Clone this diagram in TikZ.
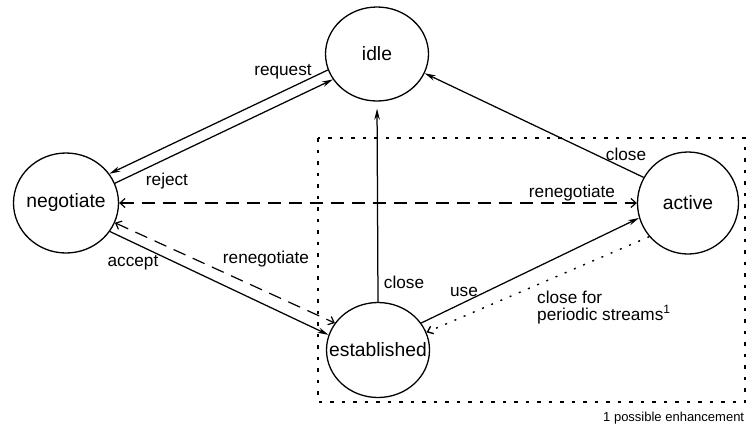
\documentclass[tikz,border=0pt]{standalone}
\usepackage{fontspec}
\setmainfont{Liberation Sans}
\usetikzlibrary{shapes.geometric,arrows.meta}
\begin{document}
\begin{tikzpicture}[x=1pt,y=-1pt,
  state/.style={draw, ellipse, line width=1.3pt, inner xsep=-20pt, inner ysep=0pt,
    font=\fontsize{19.3}{22}\selectfont},
  lbl/.style={inner sep=0pt, font=\fontsize{17.2}{17}\selectfont},
  solidarrow/.style={line width=1.25pt, -{Stealth[length=11pt,width=5.5pt]}},
  dasharrow/.style={line width=1.2pt, dash pattern=on 13pt off 8pt,
    {Straight Barb[length=5pt,width=9pt]}-{Straight Barb[length=5pt,width=9pt]}},
  dotarrow/.style={line width=1.4pt, dash pattern=on 2pt off 8pt,
    -{Straight Barb[length=5pt,width=8pt]}},
  boxline/.style={line width=2pt, dash pattern=on 3.5pt off 8pt}
]
\useasboundingbox (0,0) rectangle (749,432);

% dotted boundary
\draw[boxline] (318,138) rectangle (745,402);

% states
\node[state, minimum width=103pt, minimum height=94pt] (idle) at (377,54) {idle};
\node[state, minimum width=105pt, minimum height=100pt] (negotiate) at (66,203) {negotiate};
\node[state, minimum width=101pt, minimum height=102pt] (active) at (688,203) {active};
\node[state, minimum width=103pt, minimum height=95pt] (established) at (378,350) {established};

% transitions
\draw[solidarrow] (idle.198) -- (negotiate.34);
\draw[solidarrow] (negotiate.22) -- (idle.210);
\draw[solidarrow] (active.150) -- (idle.-22);
\draw[dasharrow] (negotiate.east) -- (active.west);
\draw[dasharrow] (negotiate.-22) -- (established.148);
\draw[solidarrow] (negotiate.-33) -- (established.163);
\draw[solidarrow, shorten >=7pt] (established.north) -- (idle.south);
\draw[solidarrow] (established.32) -- (active.197);
\draw[dotarrow] (active.221) -- (established.20);

% labels
\node[lbl] (lrequest) at (283,72) {request};
\node[lbl] (lreject) at (167,181) {reject};
\node[lbl] (lrenegtop) at (572,193) {renegotiate};
\node[lbl] (lcloseact) at (626,154) {close};
\node[lbl] (laccept) at (133,263) {accept};
\node[lbl] (lrenegbot) at (266,259) {renegotiate};
\node[lbl] (lcloseest) at (404,282) {close};
\node[lbl] (luse) at (464,292) {use};
\node[lbl, anchor=north west, align=left] (lperiodic) at (537,290.5)
  {close for\\periodic streams\textsuperscript{1}};
\node[inner sep=0pt, anchor=west, font=\fontsize{13}{13}\selectfont] (note) at (603,418)
  {1 possible enhancement};
\end{tikzpicture}
\end{document}
